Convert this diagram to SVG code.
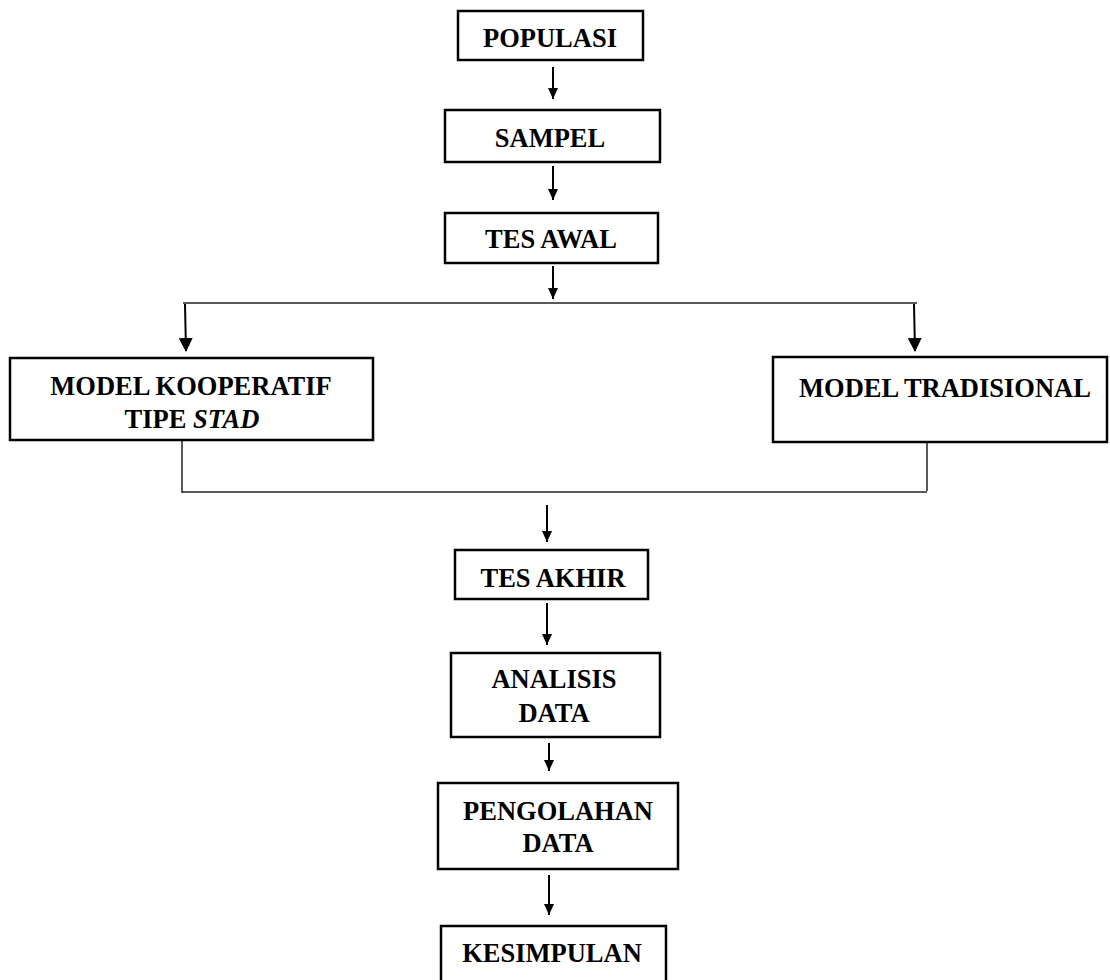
<svg xmlns="http://www.w3.org/2000/svg" width="1110" height="980" viewBox="0 0 1110 980">
<defs>
<style>
.box{fill:#fff;stroke:#000;stroke-width:2.5}
.t{font-family:"Liberation Serif","Times New Roman",serif;font-weight:bold;font-size:26.5px;fill:#000;text-anchor:middle}
.ln{stroke:#222;stroke-width:1.5;fill:none}
.ar{stroke:#000;stroke-width:2;fill:none}
</style>
<marker id="ah" markerUnits="userSpaceOnUse" markerWidth="14" markerHeight="14" refX="13" refY="7" orient="auto">
<path d="M0,0 L14,7 L0,14 Z" fill="#000"/>
</marker>
<marker id="ahs" markerUnits="userSpaceOnUse" markerWidth="11" markerHeight="10" refX="11" refY="5" orient="auto">
<path d="M0,0 L11,5 L0,10 Z" fill="#000"/>
</marker>
</defs>
<rect width="1110" height="980" fill="#fff"/>
<g id="connectors">
<line class="ar" x1="553" y1="67" x2="553" y2="99" marker-end="url(#ahs)"/>
<line class="ar" x1="553" y1="166" x2="553" y2="200" marker-end="url(#ahs)"/>
<line class="ar" x1="553" y1="266" x2="553" y2="299" marker-end="url(#ahs)"/>
<line class="ln" x1="183" y1="303" x2="917" y2="303"/>
<line class="ar" x1="185" y1="304" x2="186" y2="351" marker-end="url(#ah)"/>
<line class="ar" x1="914" y1="304" x2="915" y2="351" marker-end="url(#ah)"/>
<line class="ln" x1="182" y1="441" x2="182" y2="493"/>
<line class="ln" x1="927" y1="443" x2="927" y2="491"/>
<line class="ln" x1="182" y1="492" x2="927" y2="492"/>
<line class="ar" x1="547" y1="505" x2="547" y2="542" marker-end="url(#ahs)"/>
<line class="ar" x1="547" y1="603" x2="547" y2="645" marker-end="url(#ahs)"/>
<line class="ar" x1="549" y1="743" x2="549" y2="771" marker-end="url(#ahs)"/>
<line class="ar" x1="549" y1="875" x2="549" y2="915" marker-end="url(#ahs)"/>
</g>
<g id="populasi"><rect class="box" x="458" y="11" width="185" height="49"/><text class="t" x="550" y="47">POPULASI</text></g>
<g id="sampel"><rect class="box" x="445" y="110" width="215" height="52"/><text class="t" x="550" y="147">SAMPEL</text></g>
<g id="tes-awal"><rect class="box" x="445" y="213" width="213" height="50"/><text class="t" x="551" y="248">TES AWAL</text></g>
<g id="model-kooperatif"><rect class="box" x="10" y="358" width="363" height="82"/><text class="t" x="191" y="395">MODEL KOOPERATIF</text><text class="t" x="192" y="428">TIPE <tspan font-style="italic">STAD</tspan></text></g>
<g id="model-tradisional"><rect class="box" x="773" y="357" width="334" height="85"/><text class="t" x="945" y="397">MODEL TRADISIONAL</text></g>
<g id="tes-akhir"><rect class="box" x="455" y="550" width="193" height="49"/><text class="t" x="553" y="587">TES AKHIR</text></g>
<g id="analisis-data"><rect class="box" x="451" y="653" width="209" height="84"/><text class="t" x="554" y="688">ANALISIS</text><text class="t" x="554" y="722">DATA</text></g>
<g id="pengolahan-data"><rect class="box" x="438" y="783" width="240" height="86"/><text class="t" x="558" y="820">PENGOLAHAN</text><text class="t" x="558" y="852">DATA</text></g>
<g id="kesimpulan"><rect class="box" x="441" y="926" width="225" height="60"/><text class="t" x="552" y="962">KESIMPULAN</text></g>
</svg>
